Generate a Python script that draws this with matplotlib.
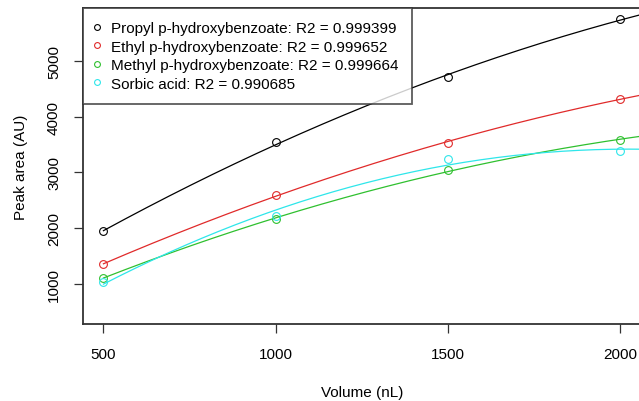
import numpy as np
import matplotlib
matplotlib.use("Agg")
import matplotlib.pyplot as plt
from matplotlib.lines import Line2D

plt.rcParams['font.family'] = ['Liberation Sans', 'DejaVu Sans']

# Volumen und Peakflaechen
volume = [500, 1000, 1500, 2000]
propyl = [1944, 3539, 4704, 5737]
ethyl = [1358, 2600, 3527, 4315]
methyl = [1120, 2165, 3037, 3586]
sorbic = [1041, 2213, 3245, 3378]

names = ["Propyl p-hydroxybenzoate", "Ethyl p-hydroxybenzoate",
         "Methyl p-hydroxybenzoate", "Sorbic acid"]
r2_labels = ["0.999399", "0.999652", "0.999664", "0.990685"]
colors = ["black", "#e02a2a", "#2fc02f", "#2ee6ea"]

W, H = 639, 402
fig = plt.figure(figsize=(W / 100, H / 100), dpi=100)
# Achse reicht leicht ueber den rechten Bildrand hinaus (Original ist abgeschnitten)
left, right, top, bottom = 82.8, 640.6, 9.0, 325.0
ax = fig.add_axes([left / W, 1 - bottom / H, (right - left) / W, (bottom - top) / H])

xs = np.array(volume, dtype=float)
xx = np.linspace(500, 2080, 200)
handles = []
for ys, col, name, r2 in zip([propyl, ethyl, methyl, sorbic], colors, names, r2_labels):
    ax.plot(xs, ys, 'o', mfc='none', mec=col, ms=5.6, mew=0.8, clip_on=False)
    # quadratischer Fit wie im Original
    coef = np.polyfit(xs, ys, 2)
    ax.plot(xx, np.polyval(coef, xx), color=col, lw=0.9)
    handles.append(Line2D([], [], ls='none', marker='o', mfc='none', mec=col,
                          ms=4.2, mew=0.8, label=f"{name}: R2 = {r2}"))

ax.set_xlim(440, 2060)
ax.set_ylim(290, 5940)
ax.set_xticks([500, 1000, 1500, 2000])
ax.set_yticks([1000, 2000, 3000, 4000, 5000])
for lab in ax.get_yticklabels():
    lab.set_rotation(90)
    lab.set_va('center')
ax.tick_params(direction='out', length=6.7, width=0.9, color='#333333',
               labelsize=11, pad=9)
ax.tick_params(axis='x', pad=10)
for s in ax.spines.values():
    s.set_linewidth(1.3)
    s.set_color('#333333')

ax.set_xlabel("Volume (nL)", fontsize=11, labelpad=17)
ax.set_ylabel("Peak area (AU)", fontsize=11, labelpad=14)

leg = ax.legend(handles=handles, loc='upper left', bbox_to_anchor=(0, 1),
                borderaxespad=0, fontsize=11, frameon=True, fancybox=False,
                handlelength=0.2, handletextpad=0.8, borderpad=0.85,
                labelspacing=0.3)
leg.get_frame().set_edgecolor('#333333')
leg.get_frame().set_linewidth(1.3)

fig.savefig("out.png", dpi=100)
